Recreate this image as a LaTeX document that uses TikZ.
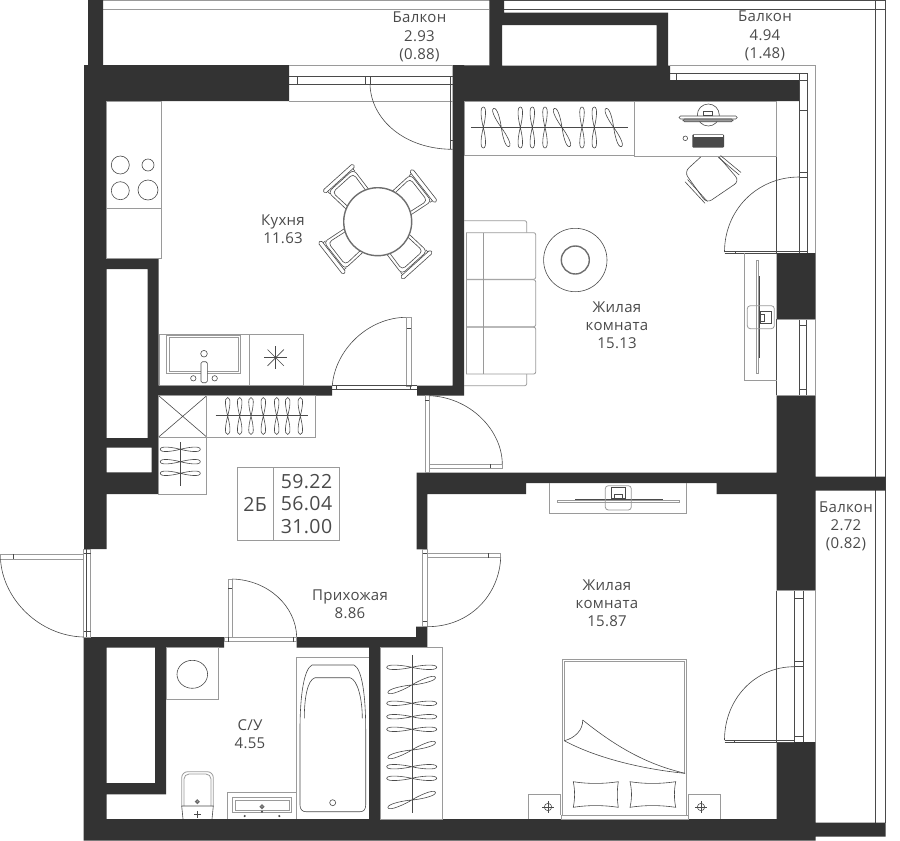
\documentclass[tikz,border=0pt]{standalone}
\usepackage{fontspec}
\setmainfont[LetterSpace=2]{Open Sans}
\usepackage{xcolor}
\definecolor{wallgray}{HTML}{333333}
\definecolor{inkgray}{HTML}{4A4A4A}
\definecolor{framegray}{HTML}{9A9A9A}

\tikzset{
  hanger/.pic={
    \draw [ink] (0,0) .. controls (-1.8,-7) and (-4,-\hangerlen) .. (0,-\hangerlen)
      .. controls (4,-\hangerlen) and (1.8,-7) .. (0,0)
      .. controls (-1.8,7) and (-4,\hangerlen) .. (0,\hangerlen)
      .. controls (4,\hangerlen) and (1.8,7) .. (0,0);
  },
  chair/.pic={
    \draw [ink, rounded corners=4] (30,-15) -- (55,-17) -- (55,17) -- (30,15);
    \draw [ink, rounded corners=4] (31,-12) -- (52,-14) -- (52,14) -- (31,12);
    \draw [ink, rounded corners=1.5] (56,-20) rectangle (60,20);
    \draw [ink] (53,-17) -- (56,-17) (53,17) -- (56,17);
  },
}
\newcommand{\hangerlen}{21}

\begin{document}
\begin{tikzpicture}[
  x=1pt, y=-1pt,
  wall/.style={fill=wallgray},
  ink/.style={draw=inkgray, line width=0.6pt},
  frame/.style={draw=framegray, line width=0.8pt},
  fat/.style={draw=inkgray!80, line width=1.4pt},
  dark/.style={fill=inkgray},
  roomlabel/.style={align=center, text=inkgray, font=\fontsize{15}{18.2}\selectfont},
  arealabel/.style={text=inkgray, font=\fontsize{19.5}{22.5}\selectfont, align=center},
]
\useasboundingbox (0,0) rectangle (900,841);

% balconies
\draw [frame] (103,0.5) -- (885.7,0.5);
\draw [frame] (103,9) -- (489,9);
\draw [ink] (504,9) -- (885.7,9);
\draw [ink] (504,0.5) -- (885.7,0.5);
\draw [frame] (103,65) -- (489,65);
\draw [ink] (875.7,0) -- (875.7,823);
\draw [ink] (885.7,0) -- (885.7,823);

% walls
\fill [wall]
  (84,65) rectangle (289,101)
  (88,0) rectangle (103,65)
  (84,65) rectangle (106.7,549)
  (106,258) rectangle (158.7,269)
  (147.7,258) rectangle (158.7,447.7)
  (147.7,385.7) rectangle (332,395.7)
  (417,385.7) rectangle (463.5,395.7)
  (452.7,65) rectangle (464,395.7)
  (106,438) rectangle (158.7,447.7)
  (151.7,438) rectangle (158.7,494)
  (106,472.3) rectangle (158.7,494)
  (83.5,637) rectangle (224,647.7)
  (83.5,637) rectangle (106.7,840.5)
  (155,647.7) rectangle (166,794.3)
  (106,783) rectangle (166,794.3)
  (83.5,819) rectangle (815.7,840.5)
  (815,822.7) rectangle (885.7,836.7)
  (296.7,637) rectangle (427.3,647.7)
  (416,626.7) rectangle (427.3,647.7)
  (369,647.7) rectangle (380,819)
  (416.7,472.7) rectangle (427.3,549.3)
  (416.7,472.7) rectangle (776.7,483)
  (416.7,483) rectangle (526,494)
  (716.7,483) rectangle (776.7,494)
  (776.7,476.7) rectangle (885.7,490.7)
  (776.7,395) rectangle (815.7,590.7)
  (776.7,253) rectangle (815.7,319.3)
  (776.7,742) rectangle (815.7,840.5)
  (452.7,65.7) rectangle (670,101)
  (452.7,80) rectangle (799.3,101)
  (489.3,0) rectangle (502,65.7)
  (489.3,0) rectangle (504,12.7)
  (489.3,12.7) rectangle (668,25)
  (656.7,12.7) rectangle (668,65.7);

% kitchen window and door
\draw [frame] (289,65) -- (452.7,65);
\draw [ink] (289,76.7) -- (452.7,76.7) (289,84.3) -- (452.7,84.3);
\draw [frame] (289,101) -- (452.7,101);
\draw [ink] (297.7,76.7) -- (297.7,84.3) (365,76.7) -- (365,84.3) (370,76.7) -- (370,84.3)
  (450,76.7) -- (450,149) (450,140) -- (452.7,140);
\draw [ink] (370,84.3) .. controls (371,120) and (405,149.3) .. (452.7,149.3);

% living room window and door
\draw [frame] (670,65) -- (815.7,65) -- (815.7,253);
\draw [ink] (670,73.7) -- (807.7,73.7) -- (807.7,253) (799.3,73.7) -- (799.3,253)
  (676,73.7) -- (676,80) (799.3,110) -- (807.7,110) (799.3,172) -- (807.7,172)
  (799.3,177) -- (807.7,177) (799.3,80) -- (807.7,80);
\draw [ink] (776.7,101) -- (776.7,253);
\draw [ink] (799.3,177) .. controls (757,177) and (724.5,210) .. (724.5,252);
\draw [ink] (724.5,251) -- (807.7,251) (724.5,253.3) -- (776.7,253.3) (735,251) -- (735,253.3);
\draw [ink] (776.7,319.3) -- (776.7,395) (799.3,319.3) -- (799.3,395) (806.7,319.3) -- (806.7,395);
\draw [frame] (776.7,319.3) -- (815.7,319.3) (776.7,395) -- (815.7,395) (815.7,319.3) -- (815.7,395);
\draw [ink] (799.3,325) -- (806.7,325) (799.3,389) -- (806.7,389);

% bedroom window and door
\draw [ink] (776.7,590.7) -- (776.7,742) (794.3,590.7) -- (794.3,742) (803.3,590.7) -- (803.3,742);
\draw [frame] (776.7,590.7) -- (815.7,590.7) -- (815.7,742);
\draw [ink] (794.3,598) -- (803.3,598) (794.3,661.7) -- (803.3,661.7)
  (794.3,666.7) -- (803.3,666.7) (794.3,736.7) -- (803.3,736.7);
\draw [ink] (794.3,666.7) .. controls (755,666.7) and (724.5,699) .. (724.5,740);
\draw [ink] (724.5,740) -- (794.3,740) (724.5,742) -- (794.3,742) (734,740) -- (734,742);

% inner doors
\draw [ink] (332.3,385.7) .. controls (335,350) and (368,317.3) .. (406.7,317.3);
\draw [frame] (406.7,317.3) rectangle (411,386);
\draw [ink] (406.7,328.3) -- (411,328.3);
\draw [ink] (332,385.7) -- (416.7,385.7) (332,389.3) -- (416.7,389.3)
  (336,385.7) -- (336,389.3) (410,385.7) -- (410,389.3);

\draw [frame] (425,395.7) rectangle (429,472.7);
\draw [ink] (425,400) -- (429,400);
\draw [ink] (429,395.7) .. controls (470,397) and (502,430) .. (502.3,464);
\draw [frame] (429,464) rectangle (502.3,468.3);
\draw [ink] (490.7,464) -- (490.7,468.3);

\draw [frame] (422.7,549.3) rectangle (427.3,626.7);
\draw [frame] (427.3,553.3) rectangle (500.7,557.7);
\draw [ink] (488,553.3) -- (488,557.7) (422.7,553) -- (427.3,553) (422.7,621) -- (427.3,621);
\draw [ink] (500.7,557.7) .. controls (499,595) and (470,626.7) .. (427.3,626.7);

\draw [frame] (228.3,579) rectangle (232.3,637);
\draw [ink] (228.3,588) -- (232.3,588);
\draw [ink] (232.3,579) .. controls (268,580) and (296,606) .. (296.7,637);
\draw [frame] (224,637) rectangle (296.7,641.7);
\draw [ink] (228.3,637) -- (228.3,641.7) (293,637) -- (293,641.7);

% entrance
\draw [frame] (83.5,549.3) rectangle (90.5,637);
\draw [ink] (86.7,549.3) -- (86.7,637) (83.5,553) -- (90.5,553) (83.5,631) -- (90.5,631);
\draw [frame] (0,554.3) rectangle (83.5,559.3);
\draw [ink] (13,554.3) -- (13,559.3);
\draw [ink] (0.5,559.3) .. controls (3,600) and (40,636) .. (83.5,637);

% kitchen
\draw [frame] (106.7,101) rectangle (161.3,258);
\draw [frame] (106.7,208.3) -- (161.3,208.3);
\draw [ink] (120.3,165) circle [radius=9];
\draw [ink] (148,165) circle [radius=6];
\draw [ink] (120.3,190.7) circle [radius=9];
\draw [ink] (148,190) circle [radius=10];
\pic at (377.7,221.7) [rotate=38] {chair};
\pic at (377.7,221.7) [rotate=132] {chair};
\pic at (377.7,221.7) [rotate=218] {chair};
\pic at (377.7,221.7) [rotate=312] {chair};
\draw [fat, fill=white] (377.7,221.7) circle [radius=34];

\draw [frame] (159,334.7) rectangle (303.3,385.7);
\draw [frame] (249.3,334.7) -- (249.3,385.7);
\draw [frame] (166.7,335.3) rectangle (240,373.3);
\draw [frame] (169,337.5) rectangle (238,371);
\draw [ink, fill=white, rounded corners=1.5] (201,361.7) rectangle (207.3,382.7);
\draw [ink] (204,353.7) circle [radius=3.3];
\draw [ink] (193.3,378.3) circle [radius=2.7];
\draw [ink] (214.7,378.3) circle [radius=2.7];
\foreach \spoke in {0,45,...,315}
  \draw [ink] (275.7,357.7) -- ++(\spoke:11.5);

% hall storage
\draw [frame] (158.7,395.7) rectangle (206.7,437);
\draw [ink] (158.7,395.7) -- (206.7,437) (206.7,395.7) -- (158.7,437);
\draw [frame] (206.7,395.7) rectangle (315.3,437);
\def\hangerlen{18.5}
\foreach \hx in {227.7,239.7,251,263.3,276.7,287.7,300.3}
  \pic at (\hx,416) {hanger};
\draw [ink] (215.7,415.7) -- (307.7,415.7);
\draw [frame] (158.7,437) rectangle (206.7,494);
\def\hangerlen{20}
\foreach \hy in {449.3,461.7,473.3}
  \pic at (180.3,\hy) [rotate=90] {hanger};
\draw [ink] (180.3,442.3) -- (180.3,485.7);

% info box
\draw [frame] (237.3,467.3) rectangle (339.3,540.7);
\draw [frame] (273.7,467.3) -- (273.7,540.7);
\node [arealabel] (flattype) at (255,504) {2Б};
\node [arealabel] (flatarea) at (306.5,504) {59.22\\56.04\\31.00};

% living room
\draw [frame] (464,101) rectangle (634.3,155);
\draw [frame] (634.3,101) rectangle (776.7,156);
\def\hangerlen{20.5}
\foreach \hx/\hrot in {483.3/0,501.3/22,520.3/0,532.3/0,545/0,562/22,582/0,594.3/0,613.7/22}
  \pic at (\hx,127.5) [rotate=\hrot] {hanger};
\draw [ink] (471,127) -- (628,127);

\draw [ink] (708.3,115) circle [radius=11];
\draw [ink] (703.5,111) rectangle (712.5,115);
\draw [draw=inkgray, fill=white, line width=0.6pt, rounded corners=1.5] (679,116) rectangle (737.3,119);
\draw [draw=inkgray, fill=framegray, line width=0.6pt, rounded corners=1.5] (683,119) rectangle (733,121.7);
\draw [ink] (685.3,138.3) circle [radius=2.3];
\fill [dark, rounded corners=1] (692.3,134.3) rectangle (724,147.7);
\fill [white] (693.5,135.2) rectangle (723,137);
\draw [ink, fill=white, rounded corners=6] (700.7,157) -- (684.3,172) -- (706.7,203.3) -- (739.5,181) -- (719,157);
\draw [ink] (685,181.7) -- (705,203.3) (687.5,179.5) -- (707.5,201.5)
  (718.3,157.3) -- (739.3,175) (720.5,155.5) -- (741,172.5);

\draw [frame, rounded corners=2] (464,220.7) -- (526.7,220.7) -- (526.7,232.7);
\draw [frame] (466,232.7) -- (466,374);
\draw [frame] (483.3,232.7) -- (483.3,374);
\draw [frame, rounded corners=2] (466,232.7) -- (535.7,232.7) -- (535.7,279.3) -- (466,279.3);
\draw [frame, rounded corners=2] (466,279.8) -- (535.7,279.8) -- (535.7,326.7) -- (466,326.7);
\draw [frame, rounded corners=2] (466,327.2) -- (535.7,327.2) -- (535.7,374) -- (466,374);
\draw [frame, rounded corners=2] (526.7,374) -- (526.7,385.7) -- (464,385.7);

\draw [ink] (575.3,260) circle [radius=31.7];
\draw [fat] (575.3,260) circle [radius=14];

\draw [frame] (776.7,380.3) -- (744,380.3) -- (744,253);
\draw [frame] (756,260) rectangle (758.3,373.3);
\draw [ink, line width=1pt] (759,276) -- (759,358);
\draw [frame, rounded corners=3] (747.3,305.7) rectangle (774.3,328.7);
\draw [ink] (760,311) rectangle (771.7,323.3);
\draw [ink] (760,314) rectangle (764,321);

% bedroom
\draw [frame] (549.3,483) -- (549.3,513.3) -- (686.7,513.3) -- (686.7,483);
\draw [frame] (557.3,500) rectangle (679.3,502.7);
\draw [ink, line width=1pt] (575,499) -- (662.7,499);
\draw [frame, rounded corners=3] (605.3,485.7) rectangle (631.3,510);
\draw [ink] (611.7,487.7) rectangle (625,498.3);
\draw [ink] (614,494) rectangle (622,498.3);

\draw [frame, line width=1pt] (562.3,815) -- (562.3,659.3) -- (686.7,659.3) -- (686.7,815);
\draw [frame] (564.3,741) -- (564.3,661.5) -- (684.7,661.5) -- (684.7,773);
\draw [ink] (564.3,740.7) .. controls (600,760) and (650,770) .. (685,773.3);
\draw [ink] (582.7,720) .. controls (620,750) and (650,765) .. (685,773.3);
\draw [ink] (564.3,740.7) .. controls (575,738) and (583,730) .. (582.7,720);
\draw [frame] (561,815) rectangle (688.3,819);
\draw [ink] (573.3,781.7) .. controls (588,784) and (603,784) .. (618.3,781.7)
  .. controls (617,790) and (617,799) .. (618.3,807.3)
  .. controls (603,805) and (588,805) .. (573.3,807.3)
  .. controls (575,799) and (575,790) .. (573.3,781.7) -- cycle;
\draw [ink] (630,781.7) .. controls (645,784) and (660,784) .. (675.7,781.7)
  .. controls (674,790) and (674,799) .. (675.7,807.3)
  .. controls (660,805) and (645,805) .. (630,807.3)
  .. controls (632,799) and (632,790) .. (630,781.7) -- cycle;
\draw [frame] (528.7,819) -- (528.7,794.3) -- (560.7,794.3) -- (560.7,815);
\draw [frame] (688.3,815) -- (688.3,794.3) -- (720.3,794.3) -- (720.3,819);
\foreach \lampx in {548,701} {
  \draw [ink] (\lampx,807) circle [radius=3.7];
  \draw [ink] (\lampx-6,807) -- (\lampx+6,807) (\lampx,801) -- (\lampx,813);
}

\draw [frame] (380,647.3) rectangle (442.7,819);
\def\hangerlen{25}
\foreach \hy/\hrot in {667.3/90,685/108,703.3/90,716.7/90,729.3/90,750/108,766.7/90,778.3/90,800/108}
  \pic at (411.7,\hy) [rotate=\hrot] {hanger};
\draw [ink] (412.7,655) -- (412.7,812.7);

% bathroom
\draw [frame] (166,647.7) rectangle (218.3,699.3);
\draw [ink] (192.3,674.3) ellipse [x radius=15.3, y radius=14];
\draw [frame] (296.7,819) -- (296.7,657.3) -- (369,657.3);
\draw [ink] (312,665) .. controls (304,669) and (300,695) .. (300,730) -- (300,805)
  .. controls (300,809) and (302,811.7) .. (306,811.7) -- (360,811.7)
  .. controls (364,811.7) and (365.7,809) .. (365.7,805) -- (365.7,730)
  .. controls (365.7,695) and (362,669) .. (354,665) -- cycle;
\draw [ink] (304.3,718.3) .. controls (304.3,700) and (307,680) .. (315,677.7)
  -- (350,677.7) .. controls (358,680) and (362.3,700) .. (362.3,718.3);
\draw [ink] (332.7,802.7) circle [radius=3];

\draw [frame, rounded corners=6] (181.7,806) -- (181.7,771.7) -- (213.3,771.7) -- (213.3,806);
\draw [frame, rounded corners=5] (184,806) -- (184,774) -- (211,774) -- (211,806);
\draw [ink] (181.7,806) -- (213.3,806) -- (212,819) (181.7,806) -- (183,819);
\draw [fat] (197.3,801.7) circle [radius=1.6];
\draw [ink, line width=1pt] (194,814.3) -- (200.6,814.3) (197.3,811) -- (197.3,817.6);

\draw [frame] (227.3,819) -- (227.3,792.3) -- (296.7,792.3);
\draw [frame] (232.7,797.7) rectangle (291.7,812.7);
\draw [frame] (235,800) rectangle (289.5,810.5);
\draw [fat, fill=white] (262,806.7) circle [radius=1.6];
\fill [dark] (262,811.7) circle [radius=1.2];
\fill [dark] (244.7,816) circle [radius=1.2];
\fill [dark] (279.3,816) circle [radius=1.2];

% room labels
\node [roomlabel] (balconyone) at (419.5,37) {Балкон\\2.93\\(0.88)};
\node [roomlabel] (balconytwo) at (765,36) {Балкон\\4.94\\(1.48)};
\node [roomlabel] (balconythree) at (846,526.5) {Балкон\\2.72\\(0.82)};
\node [roomlabel] (kitchen) at (283,229) {Кухня\\11.63};
\node [roomlabel] (livingroom) at (617,325) {Жилая\\комната\\15.13};
\node [roomlabel] (bedroom) at (607,603) {Жилая\\комната\\15.87};
\node [roomlabel] (hallway) at (350,604) {Прихожая\\8.86};
\node [roomlabel] (bathroom) at (250,734) {С/У\\4.55};

\end{tikzpicture}
\end{document}
